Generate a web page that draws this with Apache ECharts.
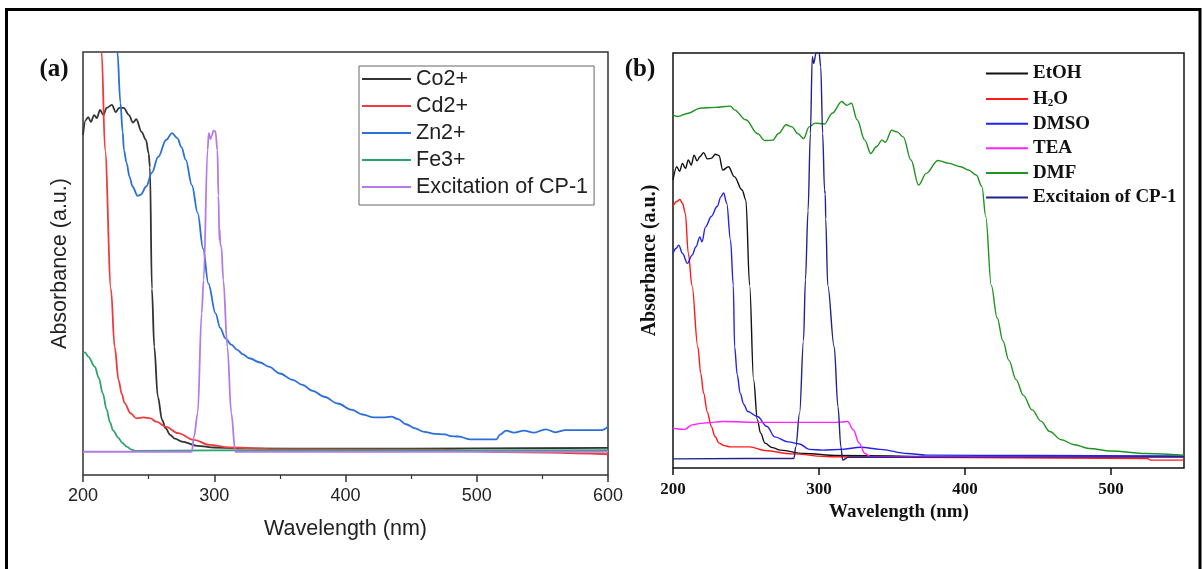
<!DOCTYPE html>
<html>
<head>
<meta charset="utf-8">
<script src="https://cdn.jsdelivr.net/npm/echarts@6/dist/echarts.min.js"></script>
<style>
html,body{margin:0;padding:0;background:#fff;}
#chart{width:1202px;height:569px;}
</style>
</head>
<body>
<div id="chart"></div>
<script>
// ---------- Panel (a) data: [wavelength nm, absorbance a.u. (0-100 scale)] ----------
const namesA = ['Co2+', 'Cd2+', 'Zn2+', 'Fe3+', 'Excitation of CP-1'];
const ticksA = [200, 300, 400, 500, 600];
const co2 = [[200,80.4],[202,83.9],[204,84.6],[206,83.5],[208.5,85.1],[210.5,84.4],[213,86.3],[215.5,85.1],[218,86.8],[222,87.5],[225,85.8],[227.5,86.8],[231,86.8],[235,85.1],[238,83.3],[240.6,84.1],[244.6,81.1],[248,79.2],[250,76],[251,72.8],[252.5,44],[254.3,30.3],[257,18.5],[260.3,13],[263,11],[266.4,9.5],[270,8.6],[275.3,7.9],[287,6.9],[300,6.5],[317,6.3],[400,6.2],[500,6.3],[600,6.4]];
const cd2 = [[212,110],[214.2,100],[216.8,76.8],[221.3,44],[224.1,30.3],[227.1,22.5],[229.5,19.2],[231.7,17],[236.2,14.6],[240.7,13.4],[246,13.6],[251.3,13.4],[255.8,12.6],[263.3,11.4],[272.4,9.9],[284.4,8.3],[296.4,7.1],[311.5,6.5],[350,6.1],[468,6.0],[520,5.4],[600,4.9]];
const zn2 = [[225,105],[226.2,100],[228.5,88],[230.2,81.1],[231.2,76.8],[233.2,73.8],[235.5,70.5],[237.7,68.2],[241.6,66],[244,66.3],[248.2,68.2],[252.5,71.5],[257.3,75.2],[263.3,79.2],[267.8,80.8],[272,79.6],[275,77.5],[278.3,74.5],[283,68.5],[287.4,61.9],[291.5,53.5],[295.5,45.3],[301,38.2],[304.5,34.8],[308.5,32.3],[313,30.8],[317.5,29.6],[322,28.5],[326.6,27.6],[335,26.6],[341.6,25.6],[350,24],[359.7,22.5],[367.2,21.3],[375,19.9],[383.8,18.5],[394,16.9],[404.9,15.4],[413,14.3],[421.5,13.6],[428,13.6],[435,13.8],[440,13.2],[446,12],[453.1,11.0],[460,10.2],[468.2,9.7],[476,9.6],[480,9.2],[486.2,9.1],[495.2,8.4],[514.8,8.4],[518,9.6],[522.4,10.5],[528.4,10.0],[535.9,10.5],[543.5,10.0],[552.5,10.8],[560,10.1],[567.5,10.6],[580,10.6],[595,10.6],[600,11.4]];
const fe3 = [[200,28.9],[201.5,29.0],[204,28],[209,25.6],[212,23],[215.1,19.3],[218,15.5],[220.5,12.5],[223,10.5],[226.9,8.8],[230,7.6],[233.3,6.7],[237,6.0],[240,5.7],[300,5.8],[400,5.9],[500,5.8],[600,5.9]];
const excA = [[200,5.5],[282.9,5.5],[284.5,9],[287.4,14.6],[290.4,38.2],[291.9,46.1],[294.9,76.8],[295.8,80.8],[297.2,79.4],[297.9,80],[299.4,81.4],[300.9,81.2],[302.4,76.8],[303.2,66],[303.9,55.6],[304.2,58],[304.6,54.5],[305.4,54],[306.9,46.1],[310,30.3],[313,14.6],[316,5.5],[600,5.5]];

// ---------- Panel (b) data ----------
const namesB = ['EtOH', 'H2O', 'DMSO', 'TEA', 'DMF', 'Excitaion of CP-1'];
const ticksB = [200, 300, 400, 500];
const etoh = [[200,69.4],[202.6,72.6],[204.5,71.5],[206.5,73.4],[208.5,72.2],[210.5,74.2],[212.5,73],[214.4,75.4],[216.5,74],[218.4,75.0],[221,76.0],[223.5,74.5],[226.2,74.6],[229,75.6],[231.5,75.3],[234.1,71.8],[238,72.6],[242,70.2],[247.3,67],[249.9,64.6],[252.5,44],[255.2,21.2],[257.8,11.6],[260,8.4],[263,6.0],[268,4.9],[273.6,4.3],[289.4,3.5],[313,3.0],[400,2.7],[550,2.7]];
const h2o = [[200,63],[202.6,64.2],[204.7,64.7],[206.5,63.8],[208.4,61.4],[210.5,51.7],[213,44],[217,29.2],[219,22.8],[221,18],[223.5,13.5],[226.2,10],[228.8,7.6],[231.5,6],[235,5.4],[239.4,5.1],[252.5,5.1],[263,4.2],[281.5,3.4],[307.7,2.7],[400,2.5],[525,2.3],[527,1.9],[550,1.9]];
const dmso = [[200,51.7],[202,52.9],[203.9,53.7],[206.5,51.7],[209.9,49.3],[213.1,51.3],[215.7,53.3],[218.4,55.7],[219.8,54.5],[222.3,58.1],[226.2,60.6],[230.2,63],[232.9,65.4],[234.7,66.3],[236.8,63.8],[239.4,54.9],[241.3,44],[242.2,29.2],[244,22.5],[246,18],[248.5,15.3],[251.2,13.6],[257.8,12.4],[264.4,10],[269.7,7.5],[278.8,6.3],[286.7,5.8],[293.3,4.5],[302.5,4.3],[315.6,4.5],[328.8,5.0],[341.9,4.5],[360.3,3.5],[373.4,3.1],[450,3.0],[550,2.9]];
const tea = [[200,9.6],[204,9.4],[208,9.3],[213.1,10.4],[218,10.7],[223.6,10.9],[234.1,11.2],[260,11.0],[290,11.0],[310.4,11.0],[316,11.1],[319.6,11.2],[323.5,9.2],[327.5,6.0],[331.4,3.5],[335.4,2.7],[550,2.7]];
const dmf = [[200,85.1],[203,84.7],[210.5,85.5],[218.4,86.7],[228.9,86.9],[239.4,87.2],[242,86.3],[249.9,83.9],[257.8,80.6],[263,78.9],[268.3,79.0],[272.3,80.6],[277.5,82.7],[281.5,82.2],[285.4,80.6],[289.4,79.4],[293.3,82.2],[297.3,83.1],[303.8,82.9],[309.1,85.5],[315.6,88.3],[319,87.4],[322.2,87.9],[326.1,83.9],[331.4,79.0],[335.4,75.8],[339.3,77.4],[343.2,79.0],[345.5,78.5],[349.8,81.4],[353.5,81.0],[357.7,79.8],[363,74.2],[368.2,68.2],[373.5,71.0],[381.4,74.1],[389.2,73.4],[397.1,72.6],[402.4,71.8],[407.7,70.6],[411.6,67.8],[414.2,60.6],[418,44],[422,36.2],[426,30.6],[430,26],[435,21.3],[440,17.5],[446,14],[452,11.3],[458,8.8],[466,6.8],[475,5.6],[485,4.7],[500,4.1],[524,3.5],[550,3.1]];
const excB = [[200,2.2],[282.8,2.3],[284.1,5.1],[286.7,13.2],[289.4,30.8],[290.7,45.3],[292.5,62],[294.1,80.6],[295.4,99.1],[296.4,97.5],[298,100],[299.9,100.5],[301.2,96.7],[302.5,80.6],[303.8,67],[304.3,66],[304.6,60],[306,44],[310.4,29.2],[313,14.8],[315,5.1],[316.2,1.9],[320,2.6],[550,2.7]];

const colorsA = ['#333333', '#ef3b3b', '#2a6fdb', '#2ea36a', '#b27ce6'];
const colorsB = ['#111111', '#ff1a1a', '#2222ee', '#ff22ff', '#1f931f', '#22228a'];
const dataA = [co2, cd2, zn2, fe3, excA];
const dataB = [etoh, h2o, dmso, tea, dmf, excB];

const SANS = 'Liberation Sans';
const SERIF = 'Liberation Serif';

const series = [];
namesA.forEach((n, i) => series.push({
  name: n, type: 'line', xAxisIndex: 0, yAxisIndex: 0, data: dataA[i],
  showSymbol: false, symbol: 'none', smooth: 0.35, smoothMonotone: 'x',
  lineStyle: { color: colorsA[i], width: 1.8 }, itemStyle: { color: colorsA[i] }, z: 2
}));
namesB.forEach((n, i) => series.push({
  name: n, type: 'line', xAxisIndex: 1, yAxisIndex: 1, data: dataB[i],
  showSymbol: false, symbol: 'none', smooth: 0.35, smoothMonotone: 'x',
  lineStyle: { color: colorsB[i], width: 1.4 }, itemStyle: { color: colorsB[i] }, z: 2
}));

const chart = echarts.init(document.getElementById('chart'), null, { renderer: 'canvas' });
chart.setOption({
  animation: false,
  backgroundColor: '#ffffff',
  grid: [
    { left: 83, top: 52, width: 525, height: 423, show: true, borderColor: '#333', borderWidth: 1.5, backgroundColor: 'transparent' },
    { left: 673, top: 53, width: 511, height: 415, show: true, borderColor: '#111', borderWidth: 1.5, backgroundColor: 'transparent' }
  ],
  xAxis: [
    { type: 'value', gridIndex: 0, min: 200, max: 600, interval: 100,
      name: 'Wavelength (nm)', nameLocation: 'middle', nameGap: 43,
      nameTextStyle: { fontFamily: SANS, fontSize: 21.5, color: '#222' },
      axisLine: { show: false },
      axisTick: { show: true, length: 7, inside: false, lineStyle: { color: '#333', width: 1.5 } },
      minorTick: { show: true, splitNumber: 2, length: 4, lineStyle: { color: '#333', width: 1.2 } },
      axisLabel: { margin: 12, fontFamily: SANS, fontSize: 18, color: '#222' },
      splitLine: { show: false }, minorSplitLine: { show: false } },
    { type: 'value', gridIndex: 1, min: 200, max: 550, interval: 100,
      name: 'Wavelength (nm)', nameLocation: 'middle', nameGap: 34,
      nameTextStyle: { fontFamily: SERIF, fontWeight: 'bold', fontSize: 19, color: '#111', padding: [0, 59, 0, 0] },
      axisLine: { show: false },
      axisTick: { show: true, length: 7, inside: false, customValues: ticksB, lineStyle: { color: '#111', width: 1.5 } },
      axisLabel: { margin: 13, customValues: ticksB, fontFamily: SERIF, fontWeight: 'bold', fontSize: 17, color: '#111' },
      splitLine: { show: false } }
  ],
  yAxis: [
    { type: 'value', gridIndex: 0, min: 0, max: 100,
      name: 'Absorbance (a.u.)', nameLocation: 'middle', nameGap: 12,
      nameTextStyle: { fontFamily: SANS, fontSize: 21.5, color: '#222' },
      axisLine: { show: false }, axisTick: { show: false }, axisLabel: { show: false }, splitLine: { show: false } },
    { type: 'value', gridIndex: 1, min: 0, max: 100,
      name: 'Absorbance (a.u.)', nameLocation: 'middle', nameGap: 13,
      nameTextStyle: { fontFamily: SERIF, fontWeight: 'bold', fontSize: 20, color: '#111' },
      axisLine: { show: false }, axisTick: { show: false }, axisLabel: { show: false }, splitLine: { show: false } }
  ],
  legend: [
    { data: namesA, orient: 'vertical', left: 359, top: 66, icon: 'rect',
      itemWidth: 49, itemHeight: 2, itemGap: 5, padding: [2, 6, 7, 3],
      borderColor: '#666', borderWidth: 1, selectedMode: false,
      textStyle: { fontFamily: SANS, fontSize: 21.5, color: '#222', lineHeight: 22 } },
    { data: namesB, orient: 'vertical', left: 986, top: 63.5, icon: 'rect',
      itemWidth: 42, itemHeight: 2, itemGap: 4.6, padding: 0, selectedMode: false,
      formatter: n => n === 'H2O' ? 'H{sub|2}O' : n,
      textStyle: { fontFamily: SERIF, fontWeight: 'bold', fontSize: 19, color: '#111', lineHeight: 20,
        rich: { sub: { fontFamily: SERIF, fontWeight: 'bold', fontSize: 11, color: '#111', verticalAlign: 'bottom', lineHeight: 20, padding: [10, 0, 0, 0] } } } }
  ],
  graphic: [
    { type: 'rect', silent: true, z: 100, shape: { x: 6.5, y: 9.5, width: 1193.5, height: 600 },
      style: { fill: 'none', stroke: '#000', lineWidth: 3 } },
    { type: 'text', silent: true, z: 100, x: 54, y: 70,
      style: { text: '(a)', fontFamily: SERIF, fontWeight: 'bold', fontSize: 25, fill: '#111', align: 'center', verticalAlign: 'middle' } },
    { type: 'text', silent: true, z: 100, x: 640, y: 70,
      style: { text: '(b)', fontFamily: SERIF, fontWeight: 'bold', fontSize: 25, fill: '#111', align: 'center', verticalAlign: 'middle' } }
  ],
  series: series
});
</script>
</body>
</html>
